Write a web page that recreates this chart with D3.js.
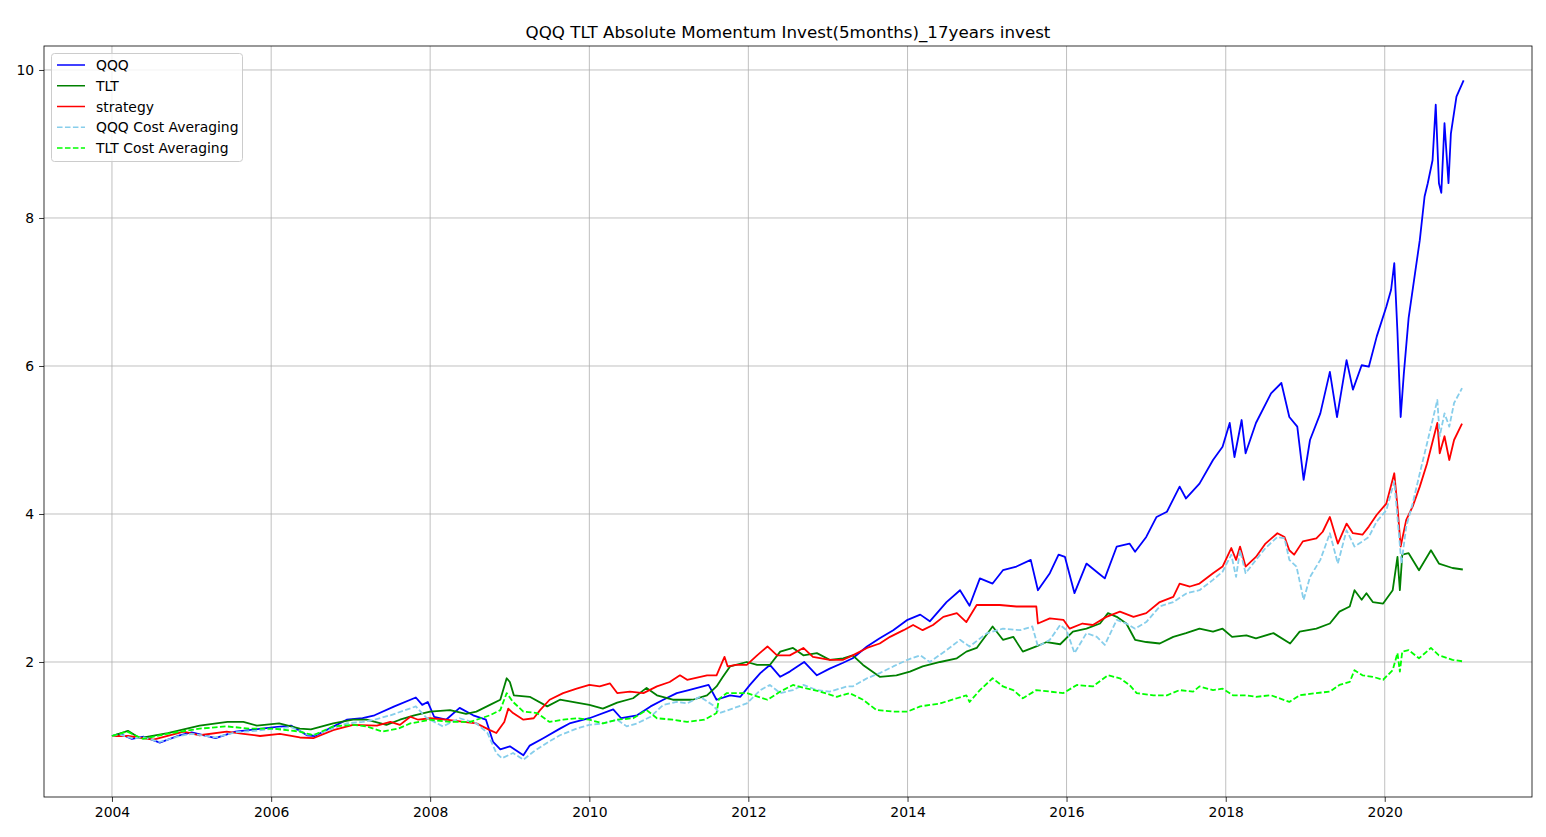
<!DOCTYPE html>
<html>
<head>
<meta charset="utf-8">
<script src="https://cdn.jsdelivr.net/npm/d3@7"></script>
<style>
  html, body { margin: 0; padding: 0; background: #fff; }
  svg { display: block; font-family: "DejaVu Sans", sans-serif; }
</style>
</head>
<body>
<svg id="chart" width="1546" height="837"></svg>
<script>
// ---- data (decimal year, value) ----
const title = "QQQ TLT Absolute Momentum Invest(5months)_17years invest";
const xTickYears = [2004, 2006, 2008, 2010, 2012, 2014, 2016, 2018, 2020];
const yTickValues = [2, 4, 6, 8, 10];
const seriesNames = ["QQQ", "TLT", "strategy", "QQQ Cost Averaging", "TLT Cost Averaging"];

const qqqData = [
[2004.00,1.00],[2004.10,1.03],[2004.25,0.96],[2004.40,0.99],[2004.60,0.91],[2004.85,1.01],
[2005.00,1.05],[2005.30,0.97],[2005.55,1.06],[2005.80,1.09],[2006.05,1.12],[2006.25,1.14],
[2006.45,1.01],[2006.55,1.00],[2006.75,1.11],[2006.95,1.22],[2007.15,1.24],[2007.30,1.28],
[2007.55,1.40],[2007.82,1.52],[2007.90,1.42],[2007.97,1.46],[2008.05,1.26],[2008.20,1.22],
[2008.37,1.38],[2008.54,1.28],[2008.70,1.22],[2008.79,0.92],[2008.88,0.82],[2009.00,0.86],
[2009.17,0.74],[2009.25,0.87],[2009.42,0.97],[2009.63,1.10],[2009.75,1.17],[2010.00,1.24],
[2010.30,1.36],[2010.40,1.24],[2010.60,1.28],[2010.77,1.40],[2010.93,1.49],[2011.10,1.58],
[2011.25,1.62],[2011.50,1.69],[2011.60,1.49],[2011.77,1.55],[2011.90,1.53],[2012.02,1.69],
[2012.15,1.85],[2012.27,1.96],[2012.40,1.80],[2012.52,1.87],[2012.70,2.00],[2012.86,1.82],
[2013.02,1.91],[2013.19,1.99],[2013.31,2.05],[2013.49,2.21],[2013.65,2.32],[2013.82,2.43],
[2014.00,2.57],[2014.16,2.64],[2014.28,2.55],[2014.49,2.81],[2014.66,2.97],[2014.78,2.76],
[2014.91,3.13],[2015.07,3.06],[2015.20,3.24],[2015.37,3.29],[2015.55,3.38],[2015.64,2.97],
[2015.79,3.20],[2015.90,3.45],[2015.98,3.42],[2016.10,2.93],[2016.25,3.33],[2016.40,3.20],
[2016.48,3.13],[2016.63,3.56],[2016.79,3.60],[2016.86,3.49],[2017.00,3.69],[2017.13,3.96],
[2017.26,4.03],[2017.42,4.37],[2017.50,4.21],[2017.67,4.41],[2017.84,4.73],[2017.96,4.91],
[2018.05,5.23],[2018.11,4.77],[2018.20,5.27],[2018.25,4.82],[2018.38,5.23],[2018.57,5.63],
[2018.70,5.77],[2018.80,5.31],[2018.90,5.18],[2018.98,4.46],[2019.06,5.00],[2019.19,5.36],
[2019.31,5.92],[2019.40,5.31],[2019.52,6.08],[2019.60,5.68],[2019.71,6.01],[2019.80,5.99],
[2019.90,6.40],[2020.02,6.80],[2020.08,7.03],[2020.12,7.39],[2020.16,6.45],[2020.20,5.31],
[2020.24,5.90],[2020.30,6.65],[2020.38,7.25],[2020.44,7.70],[2020.50,8.29],[2020.54,8.47],
[2020.60,8.78],[2020.64,9.53],[2020.68,8.47],[2020.71,8.34],[2020.75,9.28],[2020.80,8.47],
[2020.83,9.14],[2020.90,9.64],[2020.99,9.86]
];

const tltData = [
[2004.00,1.00],[2004.20,1.07],[2004.35,0.97],[2004.70,1.04],[2005.10,1.14],[2005.45,1.19],
[2005.65,1.19],[2005.82,1.14],[2006.10,1.17],[2006.36,1.10],[2006.50,1.09],[2006.78,1.17],
[2007.03,1.22],[2007.20,1.22],[2007.45,1.15],[2007.62,1.22],[2007.80,1.28],[2008.00,1.33],
[2008.25,1.35],[2008.45,1.30],[2008.58,1.33],[2008.75,1.42],[2008.88,1.49],[2008.96,1.78],
[2009.00,1.73],[2009.05,1.55],[2009.25,1.53],[2009.47,1.40],[2009.63,1.49],[2009.84,1.45],
[2010.00,1.42],[2010.17,1.37],[2010.35,1.45],[2010.55,1.51],[2010.72,1.65],[2010.85,1.55],
[2011.05,1.49],[2011.30,1.49],[2011.48,1.55],[2011.60,1.67],[2011.68,1.80],[2011.77,1.94],
[2011.98,2.00],[2012.11,1.96],[2012.27,1.96],[2012.40,2.14],[2012.56,2.19],[2012.69,2.09],
[2012.86,2.12],[2013.02,2.03],[2013.19,2.05],[2013.31,2.09],[2013.44,1.96],[2013.65,1.80],
[2013.86,1.82],[2014.03,1.87],[2014.19,1.94],[2014.41,2.00],[2014.62,2.05],[2014.74,2.14],
[2014.87,2.19],[2015.07,2.48],[2015.20,2.30],[2015.33,2.34],[2015.45,2.14],[2015.62,2.21],
[2015.75,2.27],[2015.92,2.24],[2016.08,2.41],[2016.25,2.45],[2016.42,2.52],[2016.52,2.66],
[2016.63,2.61],[2016.75,2.52],[2016.86,2.30],[2017.00,2.27],[2017.17,2.25],[2017.34,2.34],
[2017.50,2.39],[2017.67,2.45],[2017.84,2.41],[2017.96,2.45],[2018.08,2.34],[2018.26,2.36],
[2018.38,2.32],[2018.60,2.39],[2018.81,2.25],[2018.93,2.41],[2019.14,2.45],[2019.31,2.52],
[2019.43,2.68],[2019.56,2.75],[2019.62,2.97],[2019.71,2.84],[2019.77,2.93],[2019.85,2.81],
[2019.98,2.79],[2020.10,2.97],[2020.16,3.42],[2020.19,2.97],[2020.22,3.45],[2020.30,3.47],
[2020.43,3.24],[2020.58,3.51],[2020.68,3.33],[2020.85,3.27],[2020.98,3.25]
];

const strategyData = [
[2004.00,1.00],[2004.20,1.00],[2004.52,0.95],[2004.90,1.06],[2005.10,1.01],[2005.44,1.06],
[2005.65,1.03],[2005.86,1.00],[2006.11,1.03],[2006.36,0.98],[2006.53,0.97],[2006.78,1.08],
[2007.03,1.15],[2007.33,1.14],[2007.50,1.19],[2007.62,1.15],[2007.75,1.26],[2007.85,1.22],
[2008.00,1.24],[2008.20,1.22],[2008.42,1.19],[2008.58,1.17],[2008.75,1.08],[2008.83,1.04],
[2008.93,1.19],[2008.98,1.37],[2009.04,1.31],[2009.17,1.22],[2009.30,1.24],[2009.38,1.35],
[2009.50,1.49],[2009.67,1.58],[2009.84,1.64],[2010.00,1.69],[2010.13,1.67],[2010.26,1.71],
[2010.35,1.58],[2010.51,1.60],[2010.68,1.58],[2010.85,1.67],[2011.01,1.73],[2011.14,1.82],
[2011.23,1.76],[2011.48,1.82],[2011.60,1.82],[2011.70,2.07],[2011.74,1.94],[2011.85,1.96],
[2011.98,1.96],[2012.11,2.09],[2012.24,2.21],[2012.36,2.09],[2012.52,2.09],[2012.69,2.19],
[2012.81,2.07],[2013.02,2.03],[2013.19,2.03],[2013.31,2.09],[2013.49,2.19],[2013.65,2.25],
[2013.78,2.34],[2013.95,2.43],[2014.07,2.50],[2014.19,2.43],[2014.32,2.50],[2014.45,2.61],
[2014.62,2.66],[2014.74,2.54],[2014.87,2.77],[2015.16,2.77],[2015.37,2.75],[2015.62,2.75],
[2015.64,2.52],[2015.79,2.59],[2015.96,2.57],[2016.04,2.45],[2016.20,2.52],[2016.33,2.50],
[2016.50,2.61],[2016.67,2.68],[2016.84,2.61],[2017.00,2.66],[2017.17,2.81],[2017.34,2.88],
[2017.42,3.06],[2017.55,3.02],[2017.67,3.06],[2017.84,3.20],[2017.96,3.29],[2018.07,3.54],
[2018.13,3.38],[2018.18,3.56],[2018.25,3.29],[2018.38,3.42],[2018.50,3.60],[2018.65,3.74],
[2018.74,3.69],[2018.80,3.51],[2018.86,3.45],[2018.97,3.63],[2019.14,3.67],[2019.22,3.76],
[2019.31,3.96],[2019.41,3.60],[2019.52,3.87],[2019.60,3.74],[2019.72,3.72],[2019.80,3.83],
[2019.90,3.99],[2020.02,4.14],[2020.12,4.55],[2020.16,4.10],[2020.20,3.56],[2020.27,3.92],
[2020.35,4.10],[2020.44,4.37],[2020.53,4.68],[2020.66,5.23],[2020.69,4.82],[2020.75,5.05],
[2020.81,4.73],[2020.87,5.00],[2020.97,5.22]
];

const qqqCAData = [
[2004.00,1.00],[2004.10,1.02],[2004.25,0.97],[2004.40,0.98],[2004.60,0.92],[2004.85,1.00],
[2005.00,1.03],[2005.30,0.98],[2005.55,1.05],[2005.80,1.07],[2006.05,1.10],[2006.25,1.12],
[2006.45,1.02],[2006.55,1.02],[2006.75,1.09],[2006.95,1.17],[2007.15,1.19],[2007.30,1.22],
[2007.50,1.28],[2007.82,1.40],[2007.95,1.25],[2008.00,1.22],[2008.16,1.13],[2008.37,1.24],
[2008.58,1.17],[2008.72,1.04],[2008.83,0.77],[2008.90,0.70],[2009.04,0.77],[2009.17,0.68],
[2009.30,0.79],[2009.47,0.91],[2009.63,1.01],[2009.84,1.10],[2010.00,1.15],[2010.17,1.17],
[2010.35,1.22],[2010.47,1.13],[2010.60,1.17],[2010.77,1.26],[2010.93,1.42],[2011.10,1.46],
[2011.23,1.44],[2011.39,1.53],[2011.55,1.42],[2011.64,1.31],[2011.80,1.37],[2011.98,1.44],
[2012.15,1.62],[2012.27,1.69],[2012.40,1.58],[2012.56,1.62],[2012.69,1.69],[2012.86,1.62],
[2013.02,1.60],[2013.24,1.67],[2013.31,1.67],[2013.49,1.78],[2013.65,1.85],[2013.82,1.94],
[2014.00,2.03],[2014.16,2.09],[2014.28,2.00],[2014.49,2.16],[2014.66,2.30],[2014.78,2.21],
[2015.00,2.39],[2015.20,2.45],[2015.42,2.43],[2015.57,2.48],[2015.64,2.21],[2015.79,2.30],
[2015.92,2.50],[2016.00,2.43],[2016.10,2.12],[2016.25,2.39],[2016.38,2.34],[2016.48,2.23],
[2016.63,2.57],[2016.75,2.52],[2016.86,2.45],[2017.00,2.54],[2017.17,2.75],[2017.34,2.81],
[2017.51,2.93],[2017.67,2.97],[2017.84,3.11],[2017.96,3.22],[2018.07,3.45],[2018.13,3.15],
[2018.18,3.51],[2018.25,3.20],[2018.38,3.38],[2018.50,3.54],[2018.65,3.69],[2018.74,3.67],
[2018.80,3.38],[2018.89,3.29],[2018.98,2.84],[2019.06,3.15],[2019.19,3.38],[2019.31,3.74],
[2019.41,3.33],[2019.52,3.78],[2019.62,3.56],[2019.72,3.63],[2019.80,3.69],[2019.90,3.90],
[2020.02,4.05],[2020.12,4.44],[2020.17,3.83],[2020.21,3.33],[2020.27,3.83],[2020.35,4.14],
[2020.46,4.64],[2020.53,4.95],[2020.66,5.54],[2020.69,5.05],[2020.75,5.36],[2020.81,5.18],
[2020.87,5.50],[2020.97,5.70]
];

const tltCAData = [
[2004.00,1.00],[2004.19,1.06],[2004.39,0.96],[2004.69,1.03],[2005.10,1.10],[2005.44,1.13],
[2005.73,1.10],[2006.02,1.10],[2006.36,1.06],[2006.53,1.01],[2006.78,1.13],[2007.03,1.15],
[2007.20,1.13],[2007.40,1.06],[2007.60,1.10],[2007.75,1.17],[2008.00,1.22],[2008.25,1.19],
[2008.50,1.19],[2008.75,1.28],[2008.88,1.35],[2008.96,1.58],[2009.04,1.46],[2009.17,1.33],
[2009.34,1.31],[2009.50,1.19],[2009.67,1.22],[2009.84,1.24],[2010.00,1.22],[2010.17,1.17],
[2010.35,1.22],[2010.55,1.24],[2010.72,1.35],[2010.85,1.24],[2011.05,1.22],[2011.23,1.19],
[2011.45,1.22],[2011.60,1.31],[2011.63,1.50],[2011.73,1.58],[2011.98,1.58],[2012.24,1.49],
[2012.40,1.60],[2012.56,1.69],[2012.74,1.64],[2012.90,1.60],[2013.11,1.53],[2013.27,1.58],
[2013.44,1.49],[2013.61,1.35],[2013.82,1.33],[2014.00,1.33],[2014.16,1.40],[2014.41,1.44],
[2014.62,1.51],[2014.74,1.55],[2014.78,1.46],[2014.91,1.62],[2015.07,1.78],[2015.20,1.67],
[2015.33,1.62],[2015.45,1.51],[2015.62,1.62],[2015.79,1.60],[2015.96,1.58],[2016.13,1.69],
[2016.33,1.67],[2016.52,1.82],[2016.67,1.78],[2016.79,1.69],[2016.88,1.58],[2017.09,1.55],
[2017.26,1.55],[2017.42,1.62],[2017.59,1.60],[2017.67,1.67],[2017.84,1.62],[2017.96,1.64],
[2018.09,1.55],[2018.26,1.55],[2018.38,1.53],[2018.57,1.55],[2018.80,1.46],[2018.93,1.55],
[2019.14,1.58],[2019.31,1.60],[2019.43,1.69],[2019.56,1.73],[2019.62,1.89],[2019.72,1.82],
[2019.85,1.80],[2019.98,1.76],[2020.10,1.89],[2020.16,2.12],[2020.19,1.87],[2020.22,2.14],
[2020.30,2.16],[2020.43,2.05],[2020.58,2.19],[2020.68,2.09],[2020.85,2.03],[2020.97,2.01]
];

const seriesColors = ["#0000ff", "#008000", "#ff0000", "#87ceeb", "#00ff00"];
const seriesDashed = [false, false, false, true, true];
const allSeries = [qqqData, tltData, strategyData, qqqCAData, tltCAData];

// ---- helpers ----
function toDate(y) {
  const yr = Math.floor(y);
  const s = new Date(yr, 0, 1), e = new Date(yr + 1, 0, 1);
  return new Date(+s + (y - yr) * (e - s));
}

// ---- layout ----
const W = 1546, H = 837;
const m = { left: 44, right: 1532, top: 46, bottom: 797 };
const svg = d3.select("#chart");

const x = d3.scaleTime()
  .domain([toDate(2003.145), toDate(2021.85)])
  .range([m.left, m.right]);
const y = d3.scaleLinear()
  .domain([0.1757, 10.324])
  .range([m.bottom, m.top]);

svg.append("rect").attr("width", W).attr("height", H).attr("fill", "#fff");

// grid
const xTicks = xTickYears.map(yr => new Date(yr, 0, 1));
svg.append("g").selectAll("line").data(xTicks).join("line")
  .attr("x1", d => x(d)).attr("x2", d => x(d))
  .attr("y1", m.top).attr("y2", m.bottom)
  .attr("stroke", "#b0b0b0").attr("stroke-width", 0.8);
svg.append("g").selectAll("line").data(yTickValues).join("line")
  .attr("x1", m.left).attr("x2", m.right)
  .attr("y1", d => y(d)).attr("y2", d => y(d))
  .attr("stroke", "#b0b0b0").attr("stroke-width", 0.8);

// clip
svg.append("clipPath").attr("id", "clip").append("rect")
  .attr("x", m.left).attr("y", m.top)
  .attr("width", m.right - m.left).attr("height", m.bottom - m.top);

const line = d3.line().x(d => x(toDate(d[0]))).y(d => y(d[1]));
const plot = svg.append("g").attr("clip-path", "url(#clip)");
allSeries.forEach((data, i) => {
  plot.append("path")
    .attr("d", line(data))
    .attr("fill", "none")
    .attr("stroke", seriesColors[i])
    .attr("stroke-width", 1.8)
    .attr("stroke-linejoin", "round")
    .attr("stroke-dasharray", seriesDashed[i] ? "5.55,2.4" : null);
});

// axes
const xAxis = d3.axisBottom(x).tickValues(xTicks).tickFormat(d3.timeFormat("%Y"))
  .tickSize(4.9).tickPadding(4.9);
const yAxis = d3.axisLeft(y).tickValues(yTickValues).tickFormat(d3.format("d"))
  .tickSize(4.9).tickPadding(4.9);

const gx = svg.append("g").attr("transform", `translate(0,${m.bottom})`).call(xAxis);
const gy = svg.append("g").attr("transform", `translate(${m.left},0)`).call(yAxis);
[gx, gy].forEach(g => {
  g.select(".domain").remove();
  g.selectAll(".tick line").attr("stroke", "#000").attr("stroke-width", 0.8);
  g.selectAll(".tick text").attr("fill", "#000")
    .style("font-family", "DejaVu Sans").style("font-size", "13.9px");
});

// frame
svg.append("rect")
  .attr("x", m.left).attr("y", m.top)
  .attr("width", m.right - m.left).attr("height", m.bottom - m.top)
  .attr("fill", "none").attr("stroke", "#000").attr("stroke-width", 0.8);

// title
svg.append("text")
  .attr("x", (m.left + m.right) / 2).attr("y", 38)
  .attr("text-anchor", "middle")
  .style("font-family", "DejaVu Sans").style("font-size", "16.7px")
  .text(title);

// legend
const lg = svg.append("g");
lg.append("rect")
  .attr("x", 51.5).attr("y", 53.5).attr("width", 191).attr("height", 108)
  .attr("rx", 3).attr("fill", "#fff").attr("fill-opacity", 0.8)
  .attr("stroke", "#cccccc").attr("stroke-width", 1);
seriesNames.forEach((name, i) => {
  const yy = 65 + i * 20.75;
  lg.append("line")
    .attr("x1", 57).attr("x2", 85).attr("y1", yy).attr("y2", yy)
    .attr("stroke", seriesColors[i]).attr("stroke-width", 1.5)
    .attr("stroke-dasharray", seriesDashed[i] ? "5.55,2.4" : null);
  lg.append("text")
    .attr("x", 96).attr("y", yy).attr("dy", "0.36em")
    .style("font-family", "DejaVu Sans").style("font-size", "13.9px")
    .text(name);
});
</script>
</body>
</html>
